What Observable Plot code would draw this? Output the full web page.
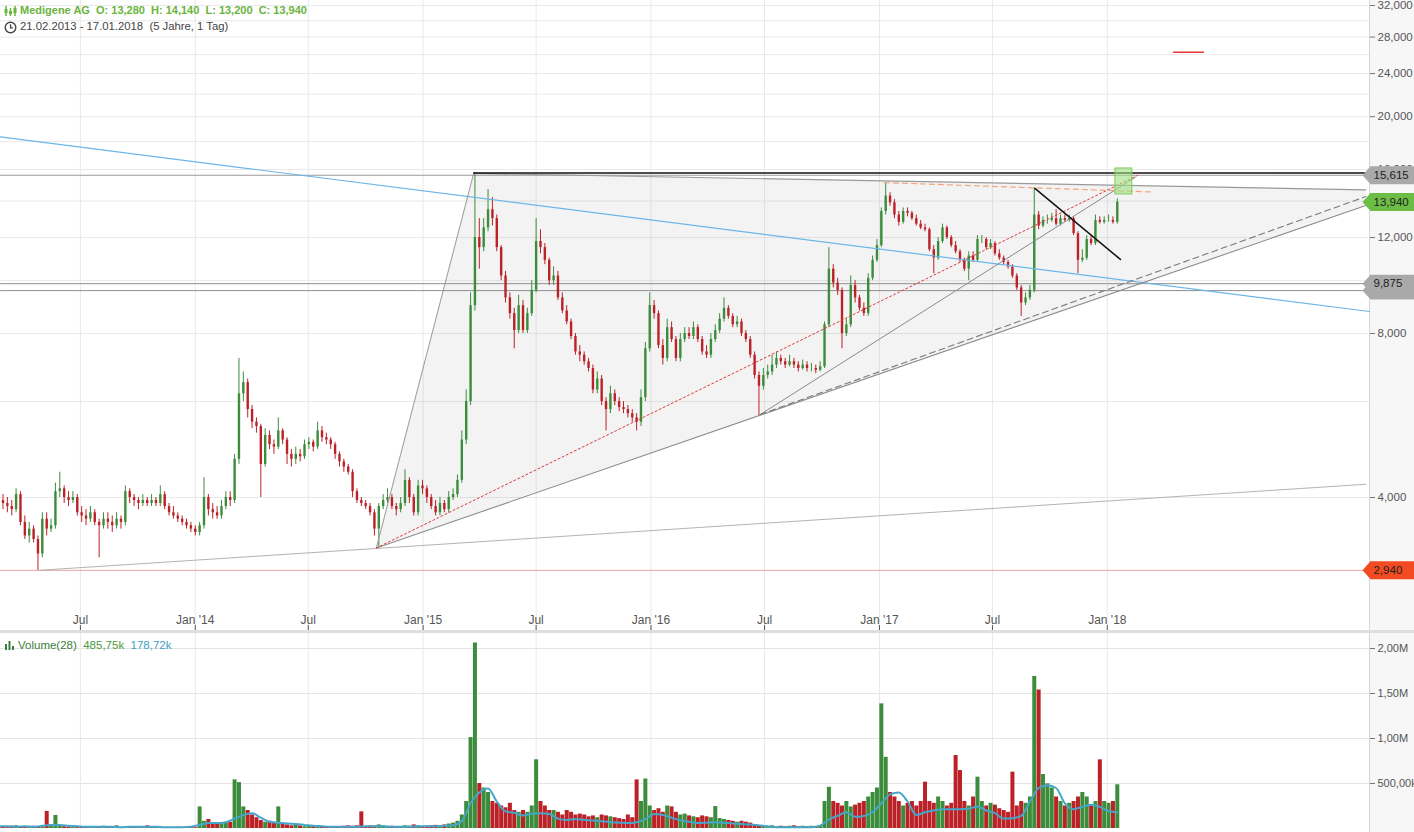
<!DOCTYPE html>
<html><head><meta charset="utf-8">
<script src="https://cdn.jsdelivr.net/npm/d3@7"></script>
<script src="https://cdn.jsdelivr.net/npm/@observablehq/plot@0.6"></script>
<style>
html,body{margin:0;padding:0;background:#fff;}
body{width:1414px;height:832px;position:relative;overflow:hidden;font-family:"Liberation Sans",Arial,sans-serif;}
#strip{position:absolute;left:1369px;top:0;width:45px;height:832px;background:#f7f7f7;border-left:1px solid #d6d6d6;box-sizing:border-box;}
#price{position:absolute;left:0;top:0;}
#sep{position:absolute;left:0;top:630px;width:1414px;height:3px;background:#dedede;}
#vol{position:absolute;left:0;top:633px;}
.hdr{position:absolute;white-space:pre;}
#h1{left:20px;top:4px;color:#6ab43e;font-weight:bold;font-size:11px;}
#h2{left:20px;top:20px;color:#444;font-size:11.3px;}
#h3{left:18px;top:639px;color:#3d7d3d;font-size:11.5px;}
#h3 .a{color:#4b9a3a}#h3 .b{color:#3f9fc6}
.ico{position:absolute;}
</style></head>
<body>
<div id="strip"></div>
<div id="price"></div>
<div id="sep"></div>
<div id="vol"></div>
<svg class="ico" style="left:4px;top:5px" width="13" height="12"><g stroke="#6ab43e" stroke-width="1.5"><line x1="2" y1="1" x2="2" y2="11"/><line x1="6.5" y1="3" x2="6.5" y2="11"/><line x1="11" y1="1" x2="11" y2="11"/></g><g fill="#6ab43e"><rect x="0.5" y="4" width="3" height="4"/><rect x="5" y="6" width="3" height="3"/><rect x="9.5" y="3" width="3" height="5"/></g></svg>
<svg class="ico" style="left:4px;top:21px" width="13" height="13"><circle cx="6.5" cy="6.5" r="5.3" fill="none" stroke="#444" stroke-width="1.4"/><path d="M6.5 3.2V6.8H9" fill="none" stroke="#444" stroke-width="1.3"/></svg>
<svg class="ico" style="left:5px;top:641px" width="10" height="9"><g fill="#3d7d3d"><rect x="0" y="3" width="2" height="6"/><rect x="3.5" y="0" width="2" height="9"/><rect x="7" y="5" width="2" height="4"/></g></svg>
<div class="hdr" id="h1">Medigene AG  O: 13,280  H: 14,140  L: 13,200  C: 13,940</div>
<div class="hdr" id="h2">21.02.2013 - 17.01.2018  (5 Jahre, 1 Tag)</div>
<div class="hdr" id="h3">Volume(28)  <span class="a">485,75k</span>  <span class="b">178,72k</span></div>
<script>
// ---------- DATA (weekly candles, first week centred on 2013-02-20) ----------
const firstWeek = "2013-02-20";
const firstOpen = 4.00;
const close = [
3.95,3.90,3.85,3.80,4.05,3.60,3.40,3.50,3.35,3.15,
3.65,3.50,3.55,4.10,4.15,4.00,3.95,4.00,3.75,3.70,
3.65,3.75,3.60,3.55,3.65,3.60,3.55,3.65,3.60,4.10,
4.00,3.95,3.90,3.95,3.90,3.95,3.90,4.05,3.85,3.75,
3.70,3.65,3.60,3.55,3.50,3.45,3.55,4.00,3.80,3.75,
3.70,3.85,4.00,3.95,4.70,6.20,6.50,5.80,5.50,5.40,
4.60,5.20,5.00,4.95,5.30,5.10,4.80,4.70,4.80,4.75,
5.00,5.05,4.95,5.30,5.15,5.10,5.00,4.80,4.65,4.55,
4.45,4.10,3.95,3.90,3.85,3.75,3.50,3.85,3.95,4.00,
3.85,3.80,3.90,4.30,4.00,3.75,4.20,4.15,4.00,3.85,
3.75,3.90,3.80,4.00,4.05,4.30,5.10,6.00,9.00,12.00,
11.50,12.50,13.50,13.00,11.50,10.20,9.30,8.70,8.10,9.00,
8.10,8.70,9.60,11.80,11.50,10.90,10.00,10.20,9.30,8.80,
8.40,7.90,7.40,7.30,7.10,6.90,6.30,6.60,6.00,5.80,
6.20,6.00,5.85,5.80,5.70,5.60,5.50,6.10,7.50,9.00,
8.70,7.60,7.20,8.20,7.80,7.20,7.80,8.00,7.90,8.20,
7.80,7.40,7.30,7.80,8.10,8.50,8.90,8.60,8.30,8.40,
8.00,7.80,7.30,6.70,6.40,6.70,6.80,7.00,7.20,7.10,
7.00,7.10,7.00,6.90,7.00,6.90,6.90,6.85,6.95,8.30,
10.50,9.90,9.60,8.00,8.30,9.80,9.30,8.90,8.70,10.10,
10.90,11.60,13.40,14.30,13.90,13.20,12.80,13.40,13.30,13.00,
12.70,12.50,12.40,11.40,11.00,11.80,12.50,12.00,11.60,11.30,
10.90,10.50,11.10,10.90,11.90,11.90,11.50,11.70,11.20,11.00,
10.80,10.60,10.20,9.70,9.10,9.30,9.60,13.20,12.60,12.90,
12.90,13.00,12.70,13.00,12.90,13.00,12.20,10.90,11.00,11.90,
11.70,12.90,12.80,12.90,12.90,12.80,13.94];
const high = [
4.10,4.05,4.00,3.95,4.15,4.10,3.70,3.60,3.55,3.40,
3.75,3.75,3.65,4.25,4.45,4.20,4.10,4.10,4.05,3.85,
3.80,3.85,3.80,3.65,3.75,3.75,3.70,3.75,3.70,4.20,
4.15,4.05,4.00,4.05,4.00,4.05,4.00,4.20,4.10,3.90,
3.85,3.75,3.70,3.65,3.60,3.55,3.60,4.35,4.05,3.90,
3.85,3.95,4.10,4.10,4.80,7.20,6.80,6.60,5.90,5.60,
5.45,5.35,5.30,5.10,5.60,5.35,5.15,4.90,4.95,4.90,
5.10,5.15,5.10,5.50,5.40,5.25,5.15,5.05,4.85,4.70,
4.60,4.50,4.15,4.00,3.95,3.90,3.80,3.90,4.05,4.15,
4.05,3.90,4.00,4.50,4.35,4.05,4.30,4.30,4.20,4.05,
3.95,4.00,3.95,4.10,4.15,4.40,5.30,6.30,9.50,15.80,
13.00,13.00,14.70,14.20,13.20,11.60,10.40,9.50,8.90,9.40,
9.20,8.90,10.00,13.00,12.40,11.70,11.00,10.60,10.40,9.50,
9.00,8.50,8.00,7.60,7.40,7.20,7.00,6.80,6.70,6.10,
6.40,6.30,6.10,6.00,5.90,5.80,5.70,6.30,7.70,9.50,
9.20,8.80,7.80,8.50,8.40,7.90,8.00,8.20,8.20,8.40,
8.30,7.90,7.60,8.00,8.30,8.70,9.30,9.00,8.70,8.60,
8.50,8.10,7.90,7.40,6.80,6.90,7.00,7.30,7.40,7.30,
7.20,7.30,7.20,7.10,7.15,7.10,7.05,7.00,7.10,8.40,
11.50,10.70,10.10,9.70,8.50,10.20,10.00,9.40,9.10,10.30,
11.10,11.90,13.60,15.10,14.50,14.10,13.40,13.60,13.60,13.40,
13.20,12.90,12.70,12.50,11.60,12.00,12.70,12.60,12.10,11.80,
11.40,11.00,11.30,11.30,12.10,12.10,12.00,11.90,11.80,11.40,
11.10,10.90,10.70,10.30,9.80,9.50,9.80,14.80,13.40,13.10,
13.20,13.30,13.50,13.20,13.20,13.20,13.10,12.30,11.40,12.10,
12.10,13.20,13.10,13.10,13.20,13.10,14.14];
const low = [
3.85,3.80,3.75,3.70,3.75,3.55,3.35,3.30,3.30,2.94,
3.10,3.40,3.45,3.50,4.00,3.90,3.85,3.90,3.70,3.60,
3.55,3.60,3.55,3.10,3.50,3.50,3.45,3.50,3.50,3.55,
3.90,3.85,3.80,3.85,3.85,3.85,3.85,3.85,3.80,3.70,
3.65,3.60,3.55,3.50,3.45,3.40,3.40,3.50,3.70,3.65,
3.65,3.65,3.80,3.85,3.90,4.60,6.00,5.60,5.35,5.25,
4.00,4.55,4.90,4.80,4.90,5.00,4.60,4.55,4.60,4.65,
4.70,4.90,4.85,4.90,5.05,5.00,4.90,4.70,4.55,4.45,
4.40,4.00,3.90,3.85,3.80,3.70,3.40,3.23,3.80,3.90,
3.80,3.70,3.75,3.85,3.90,3.70,3.70,4.05,3.90,3.80,
3.70,3.70,3.75,3.75,3.95,4.00,4.25,5.00,5.90,8.80,
10.50,11.30,12.30,12.60,11.30,10.00,9.10,8.50,7.50,8.00,
8.00,8.00,8.60,9.50,11.20,10.70,9.80,9.80,9.20,8.70,
8.30,7.80,7.30,7.10,7.00,6.80,6.20,6.20,5.90,5.30,
5.70,5.90,5.75,5.70,5.60,5.50,5.30,5.40,6.00,7.40,
8.50,7.50,7.00,7.10,7.70,7.10,7.10,7.70,7.80,7.80,
7.70,7.30,7.20,7.20,7.70,8.00,8.40,8.50,8.20,8.20,
7.90,7.70,7.20,6.60,5.65,6.30,6.60,6.70,6.90,7.00,
6.90,6.95,6.90,6.80,6.85,6.80,6.80,6.75,6.80,6.90,
8.20,9.70,9.40,7.50,7.90,8.20,9.10,8.80,8.60,8.60,
10.00,10.80,11.50,13.20,13.70,13.00,12.60,12.70,13.10,12.90,
12.60,12.40,12.30,11.30,10.30,10.90,11.70,11.90,11.50,11.20,
10.80,10.40,10.00,10.80,10.80,11.70,11.40,11.40,11.10,10.90,
10.70,10.50,10.10,9.60,8.60,9.00,9.20,9.50,12.40,12.50,
12.70,12.80,12.60,12.60,12.80,12.80,12.10,10.30,10.80,10.90,
11.60,11.60,12.70,12.70,12.80,12.70,12.70];
// weekly peak volume, thousands of shares
const volume = [
20,15,10,25,30,20,15,10,25,20,
30,190,40,145,30,20,15,10,20,15,
10,15,10,20,25,15,10,30,10,20,
15,10,10,20,30,15,10,15,10,10,
10,15,10,20,15,10,240,80,100,60,
50,60,60,70,540,510,240,200,150,120,
90,70,80,60,240,50,40,30,40,30,
20,25,20,30,20,15,20,20,15,25,
30,25,30,185,20,30,25,40,30,20,
25,20,20,30,25,40,30,20,25,30,
35,30,40,50,60,80,150,300,1010,2060,
500,450,400,300,280,250,230,280,200,180,
200,180,250,763,300,250,200,200,180,150,
200,180,150,160,150,130,140,120,150,140,
130,120,110,100,150,120,540,300,550,250,
200,220,180,250,240,180,150,160,140,130,
120,140,130,120,244,110,100,90,80,70,
80,70,60,40,30,25,20,30,20,25,
20,25,30,20,25,20,25,20,30,300,
458,300,280,250,300,240,260,280,300,350,
400,450,1385,791,400,350,300,250,280,300,
250,300,515,300,280,350,300,250,280,811,
644,300,250,350,570,300,250,280,260,220,
200,180,626,250,300,280,350,1690,1540,600,
496,450,350,300,250,280,300,350,400,350,
250,300,763,300,280,300,486];
// 28-day volume average, one value every two weeks (thousands)
const volMA = [
25,25,20,25,20,30,40,40,30,25,
20,20,20,20,15,20,20,20,20,15,
15,15,20,40,60,60,70,110,150,170,
120,75,65,55,50,40,30,25,20,20,
20,20,25,25,25,20,20,20,25,25,
25,30,35,80,280,400,445,300,190,175,
145,165,170,160,110,95,105,95,90,80,
70,65,60,70,105,160,150,120,90,75,
60,65,70,65,55,50,45,35,25,15,
15,15,15,15,30,100,140,180,130,140,
180,280,380,400,300,150,180,200,215,215,
215,220,245,200,170,110,115,140,300,450,
480,450,280,215,240,265,240,195,179];
const tickDates = ["2013-07-01","2014-01-01","2014-07-01","2015-01-01","2015-07-01","2016-01-01","2016-07-01","2017-01-01","2017-07-01","2018-01-01"];
const tickLabels = ["Jul","Jan '14","Jul","Jan '15","Jul","Jan '16","Jul","Jan '17","Jul","Jan '18"];
const priceLabels = [4,8,12,16,20,24,28,32];
const priceGrid = [4,6,8,10,12,14,16,18,20,22,24,26,28,30,32];
const volLabels = [500,1000,1500,2000];
// drawn analysis lines: [date, price] pairs
const lineBase   = [["2013-04-25",2.94],["2019-02-19",4.23]];
const lineLow    = [["2013-02-23",2.94],["2019-02-25",2.94]];
const lineBlue   = [["2013-02-23",18.36],["2019-02-25",8.78]];
const triLeft    = [["2014-10-18",3.23],["2015-03-23",15.74]];
const triTop     = [["2015-03-23",15.74],["2019-02-19",14.68]];
const triBottom  = [["2014-10-18",3.23],["2019-02-19",13.74]];
const lineTopBlk = [["2015-03-23",15.76],["2019-02-19",15.76]];
const lineRes1   = [["2013-02-23",15.615],["2019-02-25",15.615]];
const lineSup1   = [["2013-02-23",9.875],["2019-02-25",9.875]];
const lineSup2   = [["2013-02-23",9.59],["2019-02-25",9.59]];
const lineRedDot = [["2014-10-18",3.23],["2018-02-18",15.60]];
const lineBrexit = [["2016-06-24",5.68],["2018-02-15",15.49]];
const lineDashed = [["2016-06-24",5.68],["2019-02-19",14.27]];
const lineOrange = [["2017-01-09",15.14],["2018-03-14",14.55]];
const lineBlack  = [["2017-09-07",14.77],["2018-01-22",10.94]];
const lineRedTop = [["2018-04-17",26.25],["2018-06-04",26.25]];
// shaded wedge: date, lower price, upper price
const wedge = [["2014-10-18",3.23,3.23],["2015-03-23",3.72,15.74],["2019-02-19",13.74,14.68]];
const box = [{x1:"2018-01-14",x2:"2018-02-10",y1:14.40,y2:16.07}];
// price tags on the right axis (the 9,59 tag lies hidden under the 9,875 tag)
const tags = [
  {v:9.59, fill:"#a9a9a9", label:false},
  {v:9.875, fill:"#a9a9a9", label:true},
  {v:15.615, fill:"#a9a9a9", label:true},
  {v:13.94, fill:"#6cbd45", label:true},
  {v:2.94, fill:"#f24b22", label:true}];

// ---------- BUILD ----------
const D = s => new Date(s);
const weeks = close.map((c, i) => {
  const open = i ? close[i-1] : firstOpen;
  return {date: d3.utcDay.offset(D(firstWeek), 7*i), open, close: c, high: high[i], low: low[i], vol: volume[i], up: c >= open};
});
const maData = volMA.map((v, k) => ({date: d3.utcDay.offset(D(firstWeek), 14*k), v}));
const GREEN = "#3b8d3b", RED = "#bb2228";
const col = d => d.up ? GREEN : RED;
const fmtP = v => v.toFixed(3).replace(".", ",");
const fmtV = v => v >= 1000 ? (v/1000).toFixed(2).replace(".", ",") + "M" : v.toFixed(2).replace(".", ",") + "k";
const xDomain = [D("2013-02-23"), D("2019-02-25")];
const ticks = tickDates.map(D);
const seg = (pts, o) => Plot.line(pts, {x: d => D(d[0]), y: d => d[1], ...o});
const AXF = "Liberation Sans, Arial, sans-serif";

const tagSymbol = {draw(ctx) { ctx.moveTo(-30, 0); ctx.lineTo(-22, -9); ctx.lineTo(23, -9); ctx.lineTo(23, 9); ctx.lineTo(-22, 9); ctx.closePath(); }};

const pricePlot = Plot.plot({
  width: 1414, height: 630,
  marginLeft: 0, marginRight: 45, marginTop: 0, marginBottom: 0,
  style: {background: "transparent", fontFamily: AXF, fontSize: "11.5px", color: "#555"},
  x: {type: "utc", domain: xDomain, axis: null},
  y: {type: "log", domain: [2.28, 32.683], axis: null},
  marks: [
    Plot.gridY(priceGrid, {stroke: "#e9e9e9", strokeOpacity: 1}),
    Plot.gridX(ticks, {stroke: "#e9e9e9", strokeOpacity: 1}),
    Plot.areaY(wedge, {x: d => D(d[0]), y1: d => d[1], y2: d => d[2], fill: "#8a8a8a", fillOpacity: 0.1}),
    seg(lineLow, {stroke: "#eea3a3", strokeWidth: 1}),
    seg(lineRes1, {stroke: "#9a9a9a", strokeWidth: 1}),
    seg(lineSup1, {stroke: "#8f8f8f", strokeWidth: 1}),
    seg(lineSup2, {stroke: "#8f8f8f", strokeWidth: 1}),
    seg(lineBase, {stroke: "#b3b3b3", strokeWidth: 1}),
    Plot.ruleX(weeks, {x: "date", y1: "low", y2: "high", stroke: col, strokeWidth: 1}),
    Plot.ruleX(weeks, {x: "date", y1: "open", y2: "close", stroke: col, strokeWidth: 2.4}),
    seg(lineBlue, {stroke: "#6cb6e8", strokeWidth: 1.2}),
    seg(triLeft, {stroke: "#9a9a9a", strokeWidth: 1}),
    seg(triTop, {stroke: "#9a9a9a", strokeWidth: 1.2}),
    seg(triBottom, {stroke: "#8c8c8c", strokeWidth: 1.1}),
    seg(lineTopBlk, {stroke: "#111", strokeWidth: 1.4}),
    seg(lineRedDot, {stroke: "#e0393a", strokeWidth: 1, strokeDasharray: "2,2.5"}),
    seg(lineBrexit, {stroke: "#8a8a8a", strokeWidth: 1}),
    seg(lineDashed, {stroke: "#7a7a7a", strokeWidth: 1.1, strokeDasharray: "6,4"}),
    seg(lineOrange, {stroke: "#f2a57e", strokeWidth: 1.2, strokeDasharray: "5,4"}),
    seg(lineBlack, {stroke: "#111", strokeWidth: 1.5}),
    seg(lineRedTop, {stroke: "#e53935", strokeWidth: 1.5}),
    Plot.rect(box, {x1: d => D(d.x1), x2: d => D(d.x2), y1: "y1", y2: "y2", fill: "#9fe07f", fillOpacity: 0.6, stroke: "#7cc95a", strokeWidth: 1}),
    Plot.tickX(ticks, {x: d => d, insetTop: 625, stroke: "#555", strokeWidth: 1}),
    Plot.text(ticks, {x: d => d, text: (d, i) => tickLabels[i], frameAnchor: "bottom", lineAnchor: "bottom", dy: -7, fill: "#555", fontSize: 12, fontFamily: "Liberation Sans Narrow, Liberation Sans, Arial, sans-serif"}),
    Plot.axisY(priceLabels, {anchor: "right", tickFormat: fmtP, tickSize: 5, tickPadding: 3, stroke: "#777", fill: "#555", fontSize: 11.5}),
    Plot.dot(tags, {y: "v", frameAnchor: "right", dx: 23, symbol: tagSymbol, fill: "fill", stroke: "none"}),
    Plot.text(tags.filter(d => d.label), {y: "v", frameAnchor: "right", dx: 4, text: d => fmtP(d.v), textAnchor: "start", fill: "#222", fontSize: 11.5})
  ]
});
document.getElementById("price").appendChild(pricePlot);

const volPlot = Plot.plot({
  width: 1414, height: 199,
  marginLeft: 0, marginRight: 45, marginTop: 0, marginBottom: 4,
  style: {background: "transparent", fontFamily: AXF, fontSize: "11.5px", color: "#555"},
  x: {type: "utc", domain: xDomain, axis: null},
  y: {domain: [0, 2166.7], axis: null},
  marks: [
    Plot.gridY(volLabels, {stroke: "#e4e4e4", strokeOpacity: 1}),
    Plot.gridX(ticks, {stroke: "#e9e9e9", strokeOpacity: 1}),
    Plot.ruleX(weeks, {x: "date", y1: 0, y2: "vol", stroke: col, strokeWidth: 4}),
    Plot.line(maData, {x: "date", y: "v", stroke: "#45a6c9", strokeWidth: 2, curve: "monotone-x"}),
    Plot.axisY(volLabels, {anchor: "right", tickFormat: fmtV, tickSize: 5, tickPadding: 3, stroke: "#777", fill: "#555", fontSize: 11})
  ]
});
document.getElementById("vol").appendChild(volPlot);
</script>
</body></html>
